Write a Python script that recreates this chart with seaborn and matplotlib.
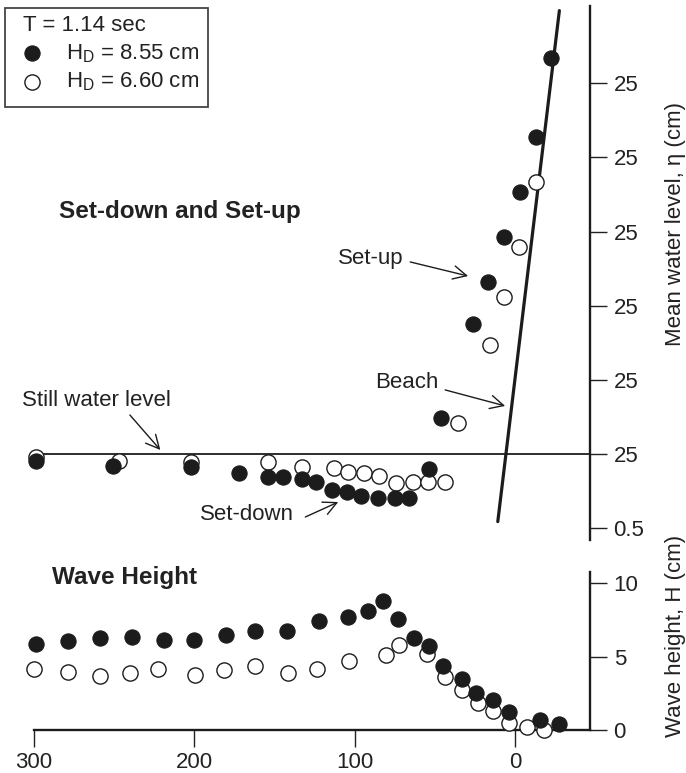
import matplotlib
matplotlib.use("Agg")
import matplotlib.pyplot as plt
import seaborn as sns
import pandas as pd
from matplotlib.ticker import FixedLocator, FixedFormatter
from matplotlib.patches import Rectangle

# ---------------- data ----------------
# Mean water level (set-down / set-up), H_D = 8.55 cm (filled)
eta_x_855 = [299, 251, 202, 172, 154, 145, 133, 124, 114, 105, 96, 85.5, 75, 66,
             54, 46, 26.4, 16.6, 6.9, -3.1, -12.9, -22.4]
eta_855 = [-0.05, -0.08, -0.09, -0.13, -0.157, -0.152, -0.17, -0.187, -0.243, -0.254,
           -0.281, -0.30, -0.30, -0.30, -0.10, 0.24, 0.875, 1.16, 1.46, 1.77, 2.14, 2.67]
# Mean water level, H_D = 6.60 cm (open)
eta_x_660 = [299, 247, 202, 154, 133, 113, 104, 94.5, 85, 74, 63.4, 54.4, 43.6,
             35.3, 15.6, 6.7, -2.5, -13.1]
eta_660 = [-0.02, -0.047, -0.056, -0.056, -0.09, -0.097, -0.123, -0.13, -0.148, -0.193,
           -0.187, -0.187, -0.187, 0.207, 0.735, 1.06, 1.394, 1.836]

# Wave height, H_D = 8.55 cm (filled)
H_x_855 = [299, 279, 259, 239, 219, 200.5, 180.5, 162, 142.5, 122.5, 104.5, 91.5, 82.5,
           73, 63, 54, 44.7, 33, 24.3, 13.7, 3.8, -15.7, -27.3]
H_855 = [5.85, 6.05, 6.25, 6.3, 6.1, 6.15, 6.45, 6.75, 6.75, 7.4, 7.7, 8.1, 8.8,
         7.55, 6.25, 5.7, 4.35, 3.45, 2.5, 2.05, 1.22, 0.66, 0.39]
# Wave height, H_D = 6.60 cm (open)
H_x_660 = [300, 279, 258.6, 240, 222.7, 199.5, 181.8, 162.5, 141.5, 123.5, 103.8, 80.7,
           72.5, 55, 43.5, 33, 23.4, 14, 3.5, -7.5, -18]
H_660 = [4.18, 3.95, 3.68, 3.91, 4.18, 3.72, 4.09, 4.37, 3.86, 4.18, 4.68, 5.13,
         5.76, 5.15, 3.63, 2.7, 1.85, 1.3, 0.48, 0.23, -0.02]

# Beach slope line
beach_x = [10.8, -27.6]
beach_eta = [-0.456, 2.99]
still_water_level = 0.0

# Axis ticks / labels (as printed in the figure)
eta_ticks = [2.5, 2.0, 1.5, 1.0, 0.5, 0.0, -0.5]
eta_tick_labels = ["25", "25", "25", "25", "25", "25", "0.5"]
H_ticks = [0, 5, 10]
x_ticks = [300, 200, 100, 0]

# ---------------- style ----------------
sns.set_style("ticks")
plt.rcParams['font.family'] = ['Liberation Sans', 'DejaVu Sans']
plt.rcParams['mathtext.fontset'] = 'custom'
plt.rcParams['mathtext.rm'] = 'Liberation Sans'
INK = '#1c1c1c'
TXT = '#222222'
FS = 16

fig = plt.figure(figsize=(6.86, 7.73), dpi=100)
W, Hh = 686, 773
ax1 = fig.add_axes([34 / W, 1 - 540 / Hh, 556 / W, 534 / Hh])
ax2 = fig.add_axes([34 / W, 1 - 730 / Hh, 556 / W, 158 / Hh])

XLIM = (300, -46.7)

# ---------------- top panel ----------------
top_open = pd.DataFrame({'x': eta_x_660, 'eta': eta_660})
top_fill = pd.DataFrame({'x': eta_x_855, 'eta': eta_855})

ax1.axhline(still_water_level, color=INK, lw=1.3, zorder=1)
sns.lineplot(x=beach_x, y=beach_eta, ax=ax1, color=INK, lw=2.3, sort=False, zorder=2)
sns.scatterplot(data=top_open, x='x', y='eta', ax=ax1, s=120, color='white',
                edgecolor=INK, linewidth=1.0, clip_on=False, zorder=3,
                label=r'H$_\mathregular{D}$ = 6.60 cm')
sns.scatterplot(data=top_fill, x='x', y='eta', ax=ax1, s=120, color=INK,
                edgecolor=INK, linewidth=0.8, clip_on=False, zorder=4,
                label=r'H$_\mathregular{D}$ = 8.55 cm')

ax1.set_xlim(*XLIM)
ax1.set_ylim(-0.58, 3.021)
for s in ['left', 'top', 'bottom']:
    ax1.spines[s].set_visible(False)
ax1.spines['right'].set_linewidth(1.7)
ax1.spines['right'].set_color(INK)
ax1.set_xticks([])
ax1.set_xlabel('')
ax1.yaxis.tick_right()
ax1.yaxis.set_major_locator(FixedLocator(eta_ticks))
ax1.yaxis.set_major_formatter(FixedFormatter(eta_tick_labels))
ax1.tick_params(axis='y', direction='out', length=12, width=1.0, pad=5,
                labelsize=FS, colors=TXT, left=False, right=True)
ax1.yaxis.set_label_position('right')
yl = ax1.set_ylabel('Mean water level, η (cm)', fontsize=FS, color=TXT)
yl.set_ha('center'); yl.set_va('center')
ax1.yaxis.set_label_coords(1.153, 0.592)

# legend (frame drawn separately as a box)
h, l = ax1.get_legend_handles_labels()
order = [1, 0]
leg = ax1.legend([h[i] for i in order], [l[i] for i in order],
                 title='T = 1.14 sec', loc='upper left',
                 bbox_to_anchor=(23 / W, 1 - 15 / Hh), bbox_transform=fig.transFigure,
                 borderaxespad=0, borderpad=0, fontsize=FS, title_fontsize=FS,
                 frameon=False, labelspacing=0.27, handlelength=0.81,
                 handletextpad=1.13, alignment='left')
for t in leg.get_texts():
    t.set_color(TXT)
leg.get_title().set_color(TXT)
fig.patches.append(Rectangle((5 / W, 1 - 107 / Hh), 203 / W, 99 / Hh,
                             transform=fig.transFigure, fill=False,
                             edgecolor='#444444', linewidth=1.3, zorder=5))

# annotations (top)
def arrow(ax, tail, tip):
    ax.annotate('', xy=tip, xytext=tail, annotation_clip=False,
                arrowprops=dict(arrowstyle='->,head_length=0.6,head_width=0.3',
                                color=INK, lw=1.0, mutation_scale=16,
                                shrinkA=0, shrinkB=0))

ax1.text(284.7, 1.632, 'Set-down and Set-up', fontsize=17.5, fontweight='bold',
         color=TXT, ha='left', va='center', clip_on=False)
ax1.text(307.2, 0.364, 'Still water level', fontsize=FS, color=TXT,
         ha='left', va='center', clip_on=False)
arrow(ax1, (240.2, 0.263), (221.2, 0.027))
ax1.text(196.3, -0.411, 'Set-down', fontsize=FS, color=TXT, ha='left', va='center')
arrow(ax1, (130.8, -0.425), (110.3, -0.324))
ax1.text(48.0, 0.479, 'Beach', fontsize=FS, color=TXT, ha='right', va='center')
arrow(ax1, (43.6, 0.432), (6.2, 0.324))
ax1.text(69.8, 1.32, 'Set-up', fontsize=FS, color=TXT, ha='right', va='center')
arrow(ax1, (65.4, 1.295), (29.3, 1.2))

# ---------------- bottom panel ----------------
bot_open = pd.DataFrame({'x': H_x_660, 'H': H_660})
bot_fill = pd.DataFrame({'x': H_x_855, 'H': H_855})
sns.scatterplot(data=bot_open, x='x', y='H', ax=ax2, s=120, color='white',
                edgecolor=INK, linewidth=1.0, clip_on=False, zorder=3)
sns.scatterplot(data=bot_fill, x='x', y='H', ax=ax2, s=120, color=INK,
                edgecolor=INK, linewidth=0.8, clip_on=False, zorder=4)
ax2.set_xlim(*XLIM)
ax2.set_ylim(0, 10.75)
for s in ['left', 'top']:
    ax2.spines[s].set_visible(False)
for s in ['right', 'bottom']:
    ax2.spines[s].set_linewidth(1.7)
    ax2.spines[s].set_color(INK)
ax2.set_xticks(x_ticks)
ax2.set_xticklabels([str(v) for v in x_ticks])
ax2.yaxis.tick_right()
ax2.set_yticks(H_ticks)
ax2.set_yticklabels([str(v) for v in H_ticks])
ax2.tick_params(axis='y', direction='out', length=12, width=1.0, pad=5,
                labelsize=FS, colors=TXT, left=False, right=True)
ax2.tick_params(axis='x', direction='out', length=12, width=1.0, pad=4,
                labelsize=FS, colors=TXT)
ax2.set_xlabel('')
ax2.yaxis.set_label_position('right')
yl2 = ax2.set_ylabel('Wave height, H (cm)', fontsize=FS, color=TXT)
yl2.set_ha('center'); yl2.set_va('center')
ax2.yaxis.set_label_coords(1.153, 0.595)
ax2.text(288.6, 10.35, 'Wave Height', fontsize=17.5, fontweight='bold', color=TXT,
         ha='left', va='center', clip_on=False)

fig.savefig('out.png', dpi=100)
